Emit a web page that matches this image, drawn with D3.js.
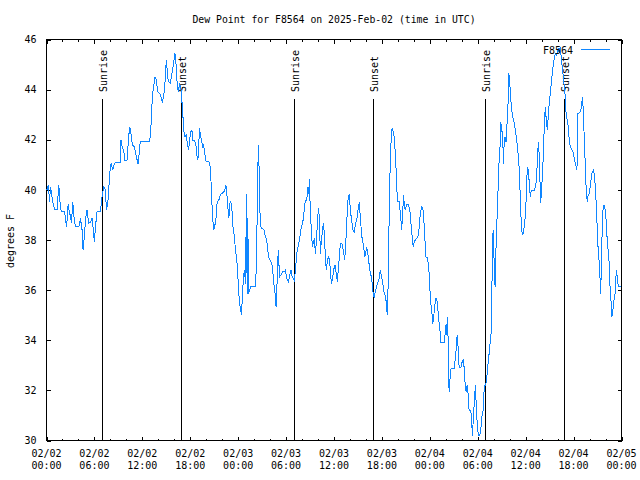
<!DOCTYPE html>
<html><head><meta charset="utf-8">
<script src="https://cdn.jsdelivr.net/npm/d3@7"></script>
<style>html,body{margin:0;padding:0;background:#fff}svg{display:block}</style>
</head><body><svg id="c" width="640" height="480"></svg>
<script>
// ---- data (hours since 2025-02-02 00:00 UTC, dew point in °F) ----
const chartTitle = "Dew Point for F8564 on 2025-Feb-02 (time in UTC)";
const yAxisLabel = "degrees F";
const seriesName = "F8564";
const xMajorHours = [0,6,12,18,24,30,36,42,48,54,60,66,72];
const xTickDates = ["02/02","02/02","02/02","02/02","02/03","02/03","02/03","02/03","02/04","02/04","02/04","02/04","02/05"];
const xTickTimes = ["00:00","06:00","12:00","18:00","00:00","06:00","12:00","18:00","00:00","06:00","12:00","18:00","00:00"];
const xMinorHours = [2,4,8,10,14,16,20,22,26,28,32,34,38,40,44,46,50,52,56,58,62,64,68,70];
const yTickValues = [30,32,34,36,38,40,42,44,46];
const sunriseHours = [7.03, 31.03, 55.03];
const sunsetHours = [16.96, 40.93, 64.92];

const dewFeb02 = [
[0.05,40.0],[0.25,40.19],[0.375,39.52],[0.5,40.12],[0.71,39.66],[0.92,39.32],[1.04,39.22],[1.33,39.22],[1.42,39.66],[1.54,40.19],
[1.67,39.59],[1.83,39.15],[2.25,39.15],[2.375,38.86],[2.5,38.52],[2.58,38.79],[2.71,39.42],[2.875,39.06],[3.0,38.99],[3.125,38.66],
[3.29,39.52],[3.42,38.99],[3.625,38.52],[4.04,38.52],[4.25,38.86],[4.46,38.39],[4.58,37.59],[4.67,37.86],[4.79,38.39],[4.92,38.92],
[5.08,39.19],[5.29,38.66],[5.5,38.72],[5.71,38.86],[5.83,38.52],[6.0,37.92],[6.125,38.52],[6.33,39.12],[6.75,39.12],[6.875,39.52],
[7.0,39.85],[7.17,40.12],[7.375,39.99],[7.5,39.19],[7.67,39.46],[7.79,39.99],[7.92,40.65],[8.08,41.05],[8.29,40.79],[8.5,41.05],
[8.71,41.09],[9.25,41.09],[9.33,41.99],[9.5,41.65],[9.67,41.59],[9.79,41.19],[10.08,41.19],[10.29,42.12],[10.42,42.52],[10.58,42.25],
[10.75,41.79],[11.0,41.72],[11.25,41.32],[11.46,41.05],[11.58,41.39],[11.75,41.95],[12.92,41.95],[13.0,42.19],[13.125,42.78],[13.25,43.72],
[13.42,44.12],[13.58,44.52],[13.75,44.38],[13.92,43.92],[14.17,43.85],[14.33,43.72],[14.5,43.52],[14.67,43.72],[14.83,44.25],[15.0,45.18],
[15.125,44.72],[15.25,44.32],[15.5,44.25],[15.71,44.65],[15.92,45.05],[16.08,45.45],[16.21,45.05],[16.33,44.38],[16.5,43.92],[16.67,44.25],
[16.83,44.05],[16.96,43.52],[17.08,42.98],[17.17,42.39],[17.33,42.12],[17.5,42.19],[17.67,41.79],[17.79,41.59],[17.92,41.99],[18.08,42.32],
[18.21,42.39],[18.33,41.99],[18.5,41.99],[18.71,41.79],[18.83,41.39],[18.96,41.19],[19.08,41.92],[19.17,42.45],[19.29,42.12],[19.42,41.99],
[19.54,41.72],[19.67,41.79],[19.79,41.52],[19.96,41.15],[20.33,41.12],[20.5,40.92],[20.625,40.19],[20.75,39.19],[20.92,38.39],[21.04,38.52],
[21.21,38.79],[21.375,39.52],[21.58,39.59],[21.75,39.79],[21.92,39.85],[22.17,39.9],[22.33,39.99],[22.46,40.19],[22.58,39.85],[22.71,39.32],
[22.83,38.86],[22.96,39.46],[23.08,39.52],[23.21,39.26],[23.33,38.59],[23.5,38.19],[23.67,37.59],[23.79,37.33],[23.92,36.86]
];
const dewFeb03 = [
[24.04,36.06],[24.17,35.46],[24.33,35.19],[24.42,34.99],[24.54,35.86],[24.67,36.53],[24.79,36.79],[24.92,36.26],[25.04,39.85],[25.125,35.86],
[25.21,38.86],[25.29,35.86],[25.42,35.99],[25.58,36.13],[25.75,36.15],[26.17,36.15],[26.29,37.06],[26.375,38.92],[26.46,40.79],[26.54,41.79],
[26.625,40.79],[26.71,39.19],[26.875,38.46],[27.08,38.46],[27.25,38.39],[27.42,38.12],[27.58,37.99],[27.71,37.59],[27.875,37.26],[28.04,37.19],
[28.21,37.06],[28.33,36.79],[28.46,36.26],[28.625,35.86],[28.75,35.33],[28.83,35.73],[28.92,37.06],[29.04,37.59],[29.17,36.53],[29.33,36.59],
[29.54,36.73],[29.79,36.73],[29.92,36.79],[30.08,36.46],[30.29,36.33],[30.5,36.66],[30.625,36.79],[30.75,36.53],[30.92,36.46],[31.04,36.39],
[31.17,36.79],[31.33,37.46],[31.5,37.72],[31.67,37.99],[31.83,38.39],[32.0,38.59],[32.17,38.86],[32.29,39.26],[32.42,39.59],[32.58,39.59],
[32.75,40.12],[32.83,39.85],[32.92,40.45],[33.04,39.06],[33.17,38.39],[33.29,37.72],[33.42,37.92],[33.54,38.06],[33.67,37.46],[33.79,37.92],
[33.92,38.66],[34.04,39.26],[34.17,38.92],[34.29,37.46],[34.42,37.99],[34.54,38.32],[34.67,38.66],[34.79,38.26],[34.92,37.33],[35.04,36.79],
[35.17,37.19],[35.33,37.33],[35.46,37.19],[35.58,36.53],[35.71,36.26],[35.83,36.53],[36.0,36.86],[36.125,36.99],[36.25,36.73],[36.42,36.33],
[36.54,36.86],[36.67,37.33],[36.79,37.86],[37.0,37.86],[37.17,37.59],[37.33,37.19],[37.46,37.72],[37.58,38.66],[37.75,39.59],[37.92,39.85],
[38.04,39.19],[38.21,38.79],[38.375,38.39],[38.54,38.32],[38.71,38.66],[38.875,38.86],[39.04,39.26],[39.17,39.52],[39.29,38.92],[39.42,38.39],
[39.54,37.99],[39.71,37.79],[39.83,37.33],[39.96,37.46],[40.08,37.72],[40.21,37.53],[40.33,37.19],[40.5,36.79],[40.67,36.53],[40.79,36.26],
[40.92,35.79],[41.04,35.73],[41.17,35.93],[41.33,36.13],[41.5,36.33],[41.67,36.46],[41.79,36.79],[41.92,36.59],[42.04,36.39],[42.17,36.13],
[42.29,35.86],[42.42,35.79],[42.54,35.53],[42.67,34.99],[42.75,35.79],[42.83,37.33],[42.92,39.19],[43.04,41.12],[43.21,42.39],[43.33,42.45],
[43.5,42.19],[43.625,41.72],[43.75,40.99],[43.875,39.99],[44.0,39.52],[44.17,39.52],[44.25,39.26],[44.375,38.86],[44.46,38.39],[44.58,38.92],
[44.71,39.79],[44.83,39.32],[44.96,39.19],[45.08,39.42],[45.29,39.42],[45.5,39.19],[45.625,38.72],[45.75,38.26],[45.92,37.72],[46.04,37.92],
[46.21,38.02],[46.375,38.06],[46.54,38.19],[46.67,38.52],[46.79,38.99],[46.96,39.32],[47.125,39.26],[47.25,38.79],[47.375,38.12],[47.5,37.33],
[47.71,37.29],[47.875,36.86]
];
const dewFeb04 = [
[48.0,36.06],[48.125,35.46],[48.25,35.13],[48.375,34.66],[48.5,34.99],[48.625,35.39],[48.75,35.66],[48.875,35.66],[49.0,35.26],[49.125,34.79],
[49.25,34.46],[49.375,33.93],[49.79,33.93],[49.92,34.26],[50.04,34.66],[50.125,34.2],[50.25,34.93],[50.33,32.66],[50.42,31.93],[50.54,32.53],
[50.67,32.89],[51.04,32.89],[51.17,33.2],[51.29,33.6],[51.42,34.2],[51.54,33.73],[51.67,32.93],[51.79,32.89],[51.92,32.93],[52.04,33.13],
[52.17,33.2],[52.29,32.93],[52.42,32.27],[52.54,31.93],[52.67,32.2],[52.79,31.87],[52.92,31.2],[53.125,31.2],[53.25,30.73],[53.33,30.2],
[53.46,30.93],[53.58,31.6],[53.71,32.2],[53.83,31.2],[53.96,30.53],[54.08,30.2],[54.25,30.2],[54.375,30.4],[54.5,30.93],[54.67,31.2],
[54.75,31.73],[54.83,32.2],[55.0,32.2],[55.17,32.66],[55.29,33.06],[55.42,33.46],[55.54,33.86],[55.67,34.26],[55.75,35.46],[55.83,37.46],
[55.92,38.39],[56.0,37.72],[56.08,36.79],[56.17,36.13],[56.25,37.33],[56.375,38.52],[56.54,39.99],[56.67,41.12],[56.79,41.72],[56.875,42.72],
[57.0,42.39],[57.125,42.19],[57.21,41.05],[57.29,41.72],[57.42,42.12],[57.54,41.92],[57.67,42.65],[57.79,43.45],[57.875,44.65],[58.0,44.38],
[58.08,43.85],[58.21,43.32],[58.33,42.98],[58.5,42.78],[58.67,42.45],[58.83,42.12],[58.96,41.72],[59.125,41.25],[59.25,40.39],[59.375,39.19],
[59.5,38.39],[59.625,38.19],[59.75,38.39],[59.875,38.66],[60.0,39.12],[60.125,40.25],[60.21,40.92],[60.33,40.79],[60.46,40.25],[60.58,39.72],
[60.71,39.99],[61.08,39.99],[61.25,40.12],[61.375,40.52],[61.5,41.52],[61.625,41.92],[61.75,40.79],[61.875,39.46],[62.0,39.99],[62.125,40.79],
[62.25,41.59],[62.33,42.65],[62.46,43.32],[62.58,42.78],[62.71,42.39],[62.83,42.92],[62.96,43.52],[63.08,43.85],[63.21,44.25],[63.33,44.65],
[63.46,44.98],[63.58,45.25],[63.71,45.45],[63.83,45.38],[63.96,45.45],[64.08,45.65],[64.21,45.45],[64.33,45.71],[64.46,45.25],[64.58,44.92],
[64.71,44.52],[64.83,44.12],[64.96,43.72],[65.04,43.12],[65.17,42.85],[65.33,42.52],[65.46,41.99],[65.58,41.72],[65.75,41.61],[65.92,41.52],
[66.04,41.32],[66.17,41.12],[66.29,40.99],[66.42,40.79],[66.54,43.05],[66.79,43.08],[66.92,43.18],[67.04,43.52],[67.125,43.72],[67.21,43.18],
[67.33,42.12],[67.46,41.05],[67.58,39.99],[67.71,39.52],[67.83,39.79],[67.96,39.85],[68.08,40.12],[68.21,40.45],[68.33,40.72],[68.5,40.79],
[68.625,40.52],[68.75,39.99],[68.875,39.19],[69.0,38.12],[69.125,37.33],[69.25,37.06],[69.375,35.86],[69.46,36.66],[69.58,38.39],[69.71,39.39],
[69.83,39.39],[69.96,39.19],[70.08,38.79],[70.21,37.99],[70.33,37.59],[70.46,37.06],[70.58,35.99],[70.71,35.46],[70.79,34.93],[70.92,35.19],
[71.04,35.59],[71.17,35.73],[71.29,36.46],[71.375,36.79],[71.5,36.39],[71.625,36.13],[71.95,36.13]
];

// ---- drawing ----
const FONT = "'DejaVu Sans Mono', 'Liberation Mono', monospace";
const LINE_COLOR = "#0f86ff";
const svg = d3.select("#c");
svg.append("rect").attr("width",640).attr("height",480).attr("fill","#fff");

const x = d3.scaleLinear().domain([0,72]).range([46.5,621.5]);
const y = d3.scaleLinear().domain([30,46]).range([440.5,39.5]);

const g = svg.append("g").attr("shape-rendering","crispEdges");

function styleAxis(sel){
  sel.select(".domain").remove();
  sel.selectAll("line").attr("stroke","#000");
  sel.selectAll("text").attr("font-family",FONT).attr("font-size","10px").attr("fill","#000");
}

// bottom major + minor ticks
g.append("g").attr("transform",`translate(0,${y(30)})`)
  .call(d3.axisBottom(x).tickValues(xMajorHours).tickSize(-4).tickFormat(""))
  .call(styleAxis);
g.append("g").attr("transform",`translate(0,${y(30)})`)
  .call(d3.axisBottom(x).tickValues(xMinorHours).tickSize(-2).tickFormat(""))
  .call(styleAxis);
// top mirror ticks
g.append("g").attr("transform",`translate(0,${y(46)})`)
  .call(d3.axisTop(x).tickValues(xMajorHours).tickSize(-4).tickFormat(""))
  .call(styleAxis);
g.append("g").attr("transform",`translate(0,${y(46)})`)
  .call(d3.axisTop(x).tickValues(xMinorHours).tickSize(-2).tickFormat(""))
  .call(styleAxis);
// left y axis with labels
g.append("g").attr("transform",`translate(${x(0)},0)`)
  .call(d3.axisLeft(y).tickValues(yTickValues).tickSize(-4).tickPadding(10).tickFormat(d3.format("d")))
  .call(styleAxis);
// right mirror
g.append("g").attr("transform",`translate(${x(72)},0)`)
  .call(d3.axisRight(y).tickValues(yTickValues).tickSize(-4).tickFormat(""))
  .call(styleAxis);

// x tick labels (two lines)
const xl = svg.append("g").attr("font-family",FONT).attr("font-size","10px").attr("fill","#000");
xMajorHours.forEach((h,i)=>{
  const t = xl.append("text").attr("text-anchor","middle");
  t.append("tspan").attr("x",x(h)).attr("y",457).text(xTickDates[i]);
  t.append("tspan").attr("x",x(h)).attr("y",469).text(xTickTimes[i]);
});

// sunrise / sunset lines
const sunEvents = sunriseHours.map(h=>({h,label:"Sunrise"})).concat(sunsetHours.map(h=>({h,label:"Sunset"})));
sunEvents.forEach(e=>{
  g.append("line").attr("x1",x(e.h)).attr("x2",x(e.h)).attr("y1",99).attr("y2",y(30))
    .attr("stroke","#000").attr("stroke-width",1);
  svg.append("text").attr("transform",`translate(${x(e.h)+4.3},92) rotate(-90)`)
    .attr("font-family",FONT).attr("font-size","10px").attr("fill","#000")
    .attr("text-anchor","start").text(e.label);
});

// data line
const allData = dewFeb02.concat(dewFeb03, dewFeb04);
svg.append("path").datum(allData)
  .attr("d", d3.line().x(d=>x(d[0])).y(d=>y(d[1])))
  .attr("fill","none").attr("stroke",LINE_COLOR).attr("stroke-width",1)
  .attr("shape-rendering","crispEdges");

// frame
g.append("rect").attr("x",x(0)).attr("y",y(46)).attr("width",x(72)-x(0)).attr("height",y(30)-y(46))
  .attr("fill","none").attr("stroke","#000").attr("stroke-width",1);

// legend
svg.append("text").attr("x",573).attr("y",54).attr("text-anchor","end")
  .attr("font-family",FONT).attr("font-size","10px").attr("fill","#000").text(seriesName);
svg.append("line").attr("x1",581).attr("x2",610).attr("y1",49.5).attr("y2",49.5)
  .attr("stroke",LINE_COLOR).attr("stroke-width",1).attr("shape-rendering","crispEdges");

// title
svg.append("text").attr("x",(x(0)+x(72))/2).attr("y",23).attr("text-anchor","middle")
  .attr("font-family",FONT).attr("font-size","9.8px").attr("fill","#000").text(chartTitle);

// y label
svg.append("text").attr("transform","translate(14,241) rotate(-90)").attr("text-anchor","middle")
  .attr("font-family",FONT).attr("font-size","10px").attr("fill","#000").text(yAxisLabel);
</script>
</body></html>
